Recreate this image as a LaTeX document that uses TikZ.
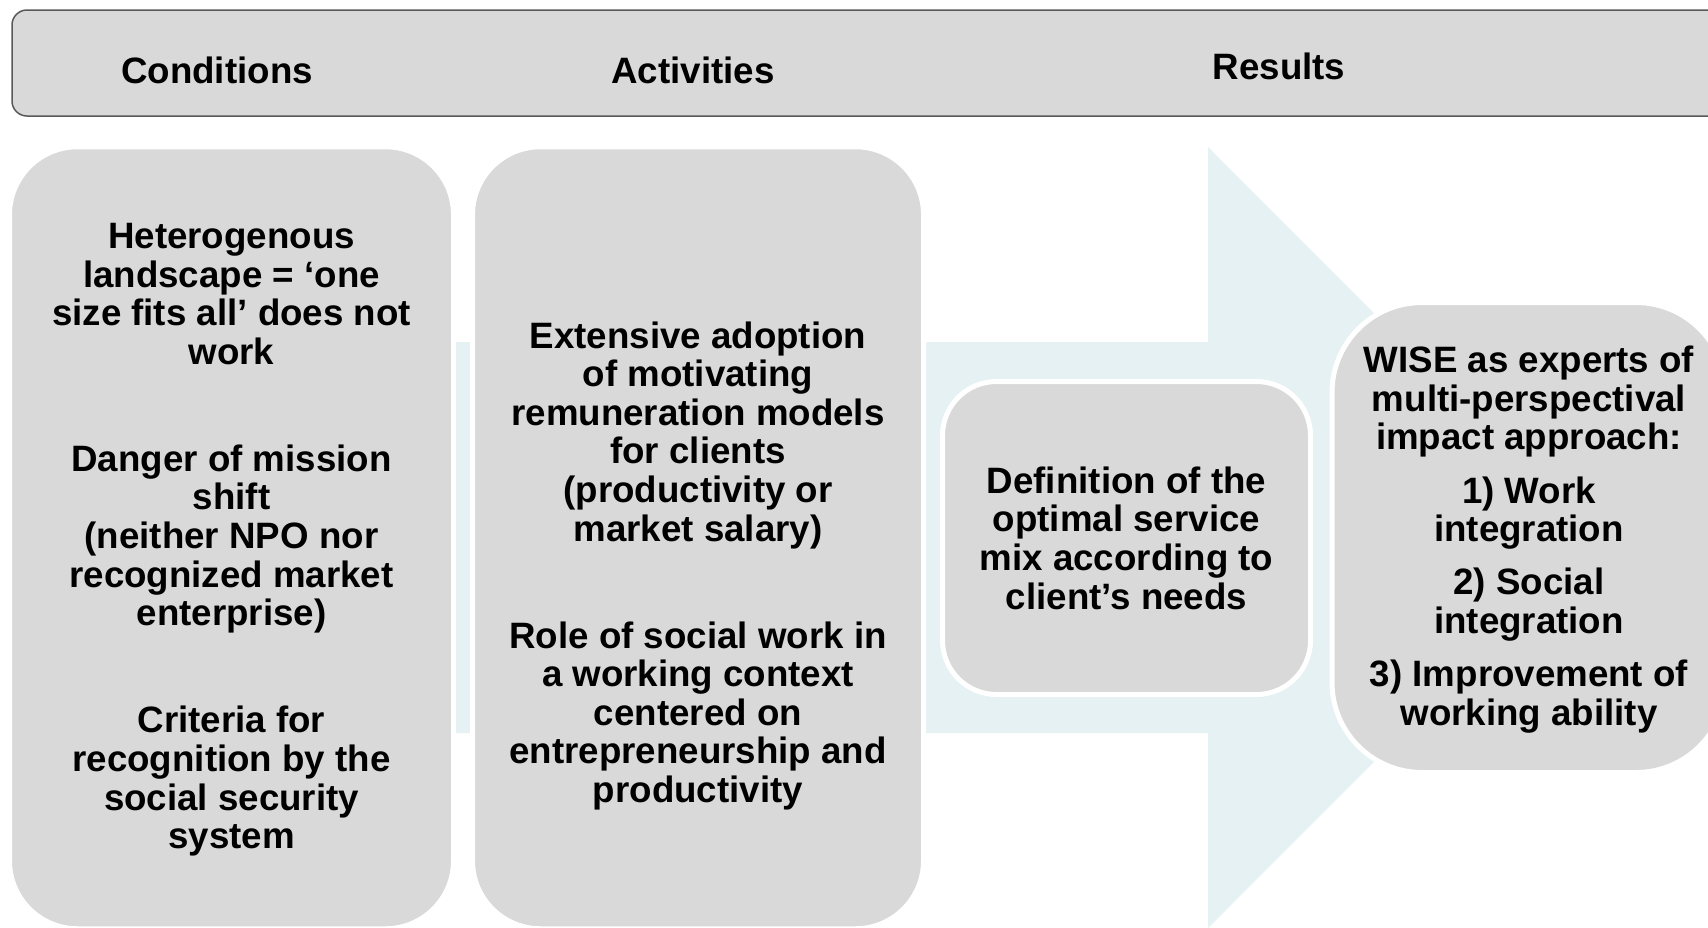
\documentclass[tikz,border=0pt]{standalone}
\usepackage{fontspec}
\setmainfont{Liberation Sans}
\usetikzlibrary{positioning}

\definecolor{boxgray}{HTML}{D9D9D9}
\definecolor{arrowblue}{HTML}{E5F1F3}
\definecolor{barline}{HTML}{595959}

\begin{document}
\begin{tikzpicture}[x=0.5pt,y=-0.5pt,
  panel/.style={fill=boxgray,draw=white,line width=2.5pt,inner sep=0pt},
  txt/.style={align=center,font=\fontsize{18.35}{19.3}\selectfont\bfseries},
  head/.style={anchor=base,font=\fontsize{18.35}{19.3}\selectfont\bfseries}]
\useasboundingbox (0,0) rectangle (1708,927);
% header bar
\node[draw=barline,fill=boxgray,line width=0.75pt,rounded corners=7.5pt,
  minimum width=859pt,minimum height=53pt,inner sep=0pt] (bar) at (871,63) {};
\node[head] (condHead) at (217,83) {Conditions};
\node[head] (actHead) at (693,83) {Activities};
\node[head] (resHead) at (1279,79) {Results};
% big arrow behind the boxes
\fill[arrowblue] (440,342) -- (1208,342) -- (1208,147) -- (1598,537.5)
  -- (1208,928) -- (1208,733) -- (440,733) -- cycle;
% boxes
\node[panel,rounded corners=34pt,minimum width=222pt,minimum height=391pt] (cond) at (231.5,537.75) {};
\node[panel,rounded corners=34pt,minimum width=225.5pt,minimum height=391pt] (act) at (698,537.75) {};
\node[panel,rounded corners=27pt,minimum width=184pt,minimum height=156.5pt] (defn) at (1126.5,538) {};
\node[panel,rounded corners=45pt,minimum width=197pt,minimum height=235pt] (wise) at (1529,537.5) {};
% texts
\node[txt] (condTxt) at ([yshift=-1pt]cond.center) {Heterogenous\\ landscape = ‘one\\ size fits all’ does not\\ work\\[34.25pt]
  Danger of mission\\ shift\\ (neither NPO nor\\ recognized market\\ enterprise)\\[34.25pt]
  Criteria for\\ recognition by the\\ social security\\ system};
\node[txt] (actTxt) at ([yshift=-14pt]act.center) {Extensive adoption\\ of motivating\\ remuneration models\\
  for clients\\ (productivity or\\ market salary)\\[34.25pt]
  Role of social work in\\ a working context\\ centered on\\ entrepreneurship and\\ productivity};
\node[txt] (defnTxt) at (defn) {Definition of the\\ optimal service\\ mix according to\\ client’s needs};
\node[txt] (wiseTxt) at ([yshift=-1pt]wise.center) {WISE as experts of\\ multi-perspectival\\ impact approach:\\[7.25pt]
  1) Work\\ integration\\[7.25pt] 2) Social\\ integration\\[7.25pt] 3) Improvement of\\ working ability};
\end{tikzpicture}
\end{document}
